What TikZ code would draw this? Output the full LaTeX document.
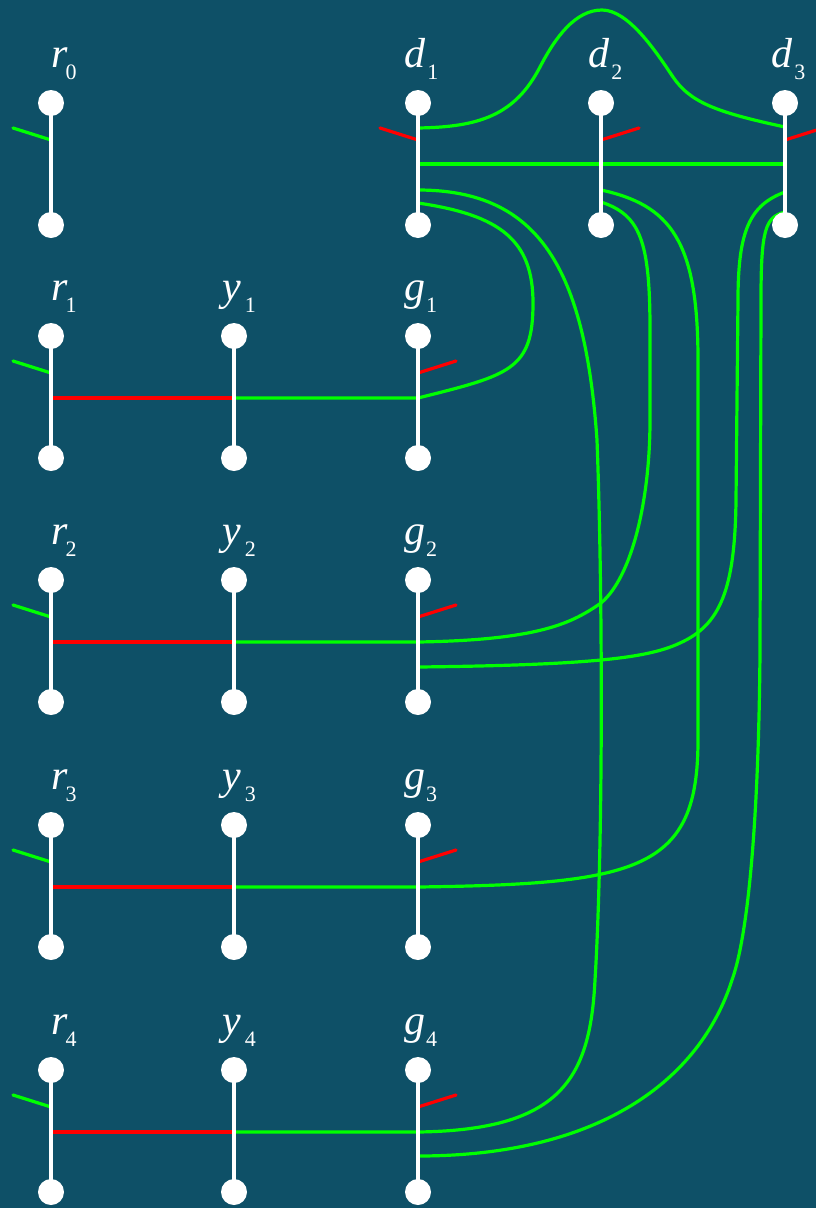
\documentclass[tikz,border=0pt]{standalone}
\usepackage{fontspec}
\setmainfont{Liberation Serif}
\definecolor{bg}{RGB}{14,80,103}
\definecolor{wireg}{RGB}{0,255,0}
\definecolor{wirer}{RGB}{255,0,0}
% letter with a lowered digit as index
\newcommand\idx[3]{\textit{#1}\kern#3\raisebox{-12pt}{\fontsize{22}{22}\selectfont #2}}
\tikzset{
  wire/.style={draw=wireg, line width=3.2pt},
  redwire/.style={draw=wirer, line width=3.2pt},
  gtick/.style={draw=wireg, line width=3.2pt, line cap=round},
  rtick/.style={draw=wirer, line width=3.2pt, line cap=round},
  pole/.style={draw=white, line width=3.6pt},
  dot/.style={circle, fill=white, inner sep=0pt, minimum size=26pt},
  lab/.style={text=white, anchor=base west, inner sep=0pt,
    font=\fontsize{42}{42}\selectfont},
}
\begin{document}
\begin{tikzpicture}[x=1pt, y=-1pt]
\fill[bg] (0,0) rectangle (816,1208);
\useasboundingbox (0,0) rectangle (816,1208);

% pole positions: name / x / top / offset of the middle wire
\foreach \n/\x/\t/\m in {r0/51/103/61, d1/418/103/61, d2/601/103/61, d3/785/103/61,
  r1/51/336/62, y1/234/336/62, g1/418/336/62,
  r2/51/580/62, y2/234/580/62, g2/418/580/62,
  r3/51/825/62, y3/234/825/62, g3/418/825/62,
  r4/51/1070/62, y4/234/1070/62, g4/418/1070/62} {
  \coordinate (\n-top) at (\x,\t);
  \coordinate (\n-bot) at (\x,\t+122);
  \coordinate (\n-tick) at (\x,\t+37);
  \coordinate (\n-mid) at (\x,\t+\m);
}

% extra attachment points
\coordinate (d1-a) at (418,128);
\coordinate (d1-c) at (418,190);
\coordinate (d1-d) at (418,203);
\coordinate (d2-a) at (601,190);
\coordinate (d2-b) at (601,202);
\coordinate (d3-a) at (785,127);
\coordinate (d3-b) at (785,192);
\coordinate (d3-c) at (785,212);
\coordinate (g2-n) at (418,667);
\coordinate (g4-n) at (418,1156);

% ticks
\foreach \n in {r0,r1,r2,r3,r4} \draw[gtick] (\n-tick) -- ++(-38,-12);
\foreach \n in {g1,g2,g3,g4,d2,d3} \draw[rtick] (\n-tick) -- ++(38,-12);
\draw[rtick] (d1-tick) -- ++(-38,-12);

% red row segments
\foreach \k in {1,2,3,4} \draw[redwire] (r\k-mid) -- (y\k-mid);

% row 0 wires
\draw[wire] (d1-a) .. controls (480,127) and (515,115) .. (540,67)
  .. controls (555,38) and (575,10) .. (602,10)
  .. controls (628,10) and (655,50) .. (673,77)
  .. controls (690,102) and (715,112) .. (d3-a);
\draw[wire] (d1-mid) -- (d3-mid);

% d1 down to row 4
\draw[wire] (d1-c) .. controls (540,190) and (585,270) .. (597,440)
  .. controls (603,600) and (603,850) .. (595,980)
  .. controls (590,1080) and (560,1130) .. (g4-mid) -- (y4-mid);

% d1 loop to row 1
\draw[wire] (d1-d) .. controls (500,215) and (533,240) .. (533,303)
  .. controls (533,370) and (510,375) .. (g1-mid) -- (y1-mid);

% d2 to row 3
\draw[wire] (d2-a) .. controls (670,205) and (698,240) .. (698,360)
  -- (698,740) .. controls (698,870) and (640,884) .. (g3-mid) -- (y3-mid);

% d2 to row 2
\draw[wire] (d2-b) .. controls (640,215) and (650,240) .. (650,330)
  -- (650,420) .. controls (650,500) and (632,577) .. (601,603)
  .. controls (572,623) and (540,640) .. (g2-mid) -- (y2-mid);

% d3 to row 2
\draw[wire] (d3-b) .. controls (750,205) and (738,230) .. (738,300)
  -- (736,500) .. controls (735,590) and (720,625) .. (680,643)
  .. controls (650,657) and (600,665) .. (g2-n);

% d3 to row 4
\draw[wire] (d3-c) .. controls (765,217) and (761,230) .. (761,300)
  -- (760,650) .. controls (759,800) and (750,930) .. (732,980)
  .. controls (700,1080) and (600,1156) .. (g4-n);

% poles on top
\foreach \n in {r0,d1,d2,d3,r1,y1,g1,r2,y2,g2,r3,y3,g3,r4,y4,g4} {
  \draw[pole] (\n-top) -- (\n-bot);
  \node[dot] (\n-T) at (\n-top) {};
  \node[dot] (\n-B) at (\n-bot) {};
}

% labels
\node[lab] (r0-lab) at (51,67) {\idx{r}{0}{-2pt}};
\node[lab] (d1-lab) at (404,67) {\idx{d}{1}{2pt}};
\node[lab] (d2-lab) at (588,67) {\idx{d}{2}{2pt}};
\node[lab] (d3-lab) at (771,67) {\idx{d}{3}{2pt}};
\foreach \k/\t in {1/336, 2/580, 3/825, 4/1070} {
  \node[lab] (r\k-lab) at (51,\t-36) {\idx{r}{\k}{-2pt}};
  \node[lab] (y\k-lab) at (222,\t-36) {\idx{y}{\k}{4pt}};
  \node[lab] (g\k-lab) at (404,\t-36) {\idx{g}{\k}{1pt}};
}
\end{tikzpicture}
\end{document}
